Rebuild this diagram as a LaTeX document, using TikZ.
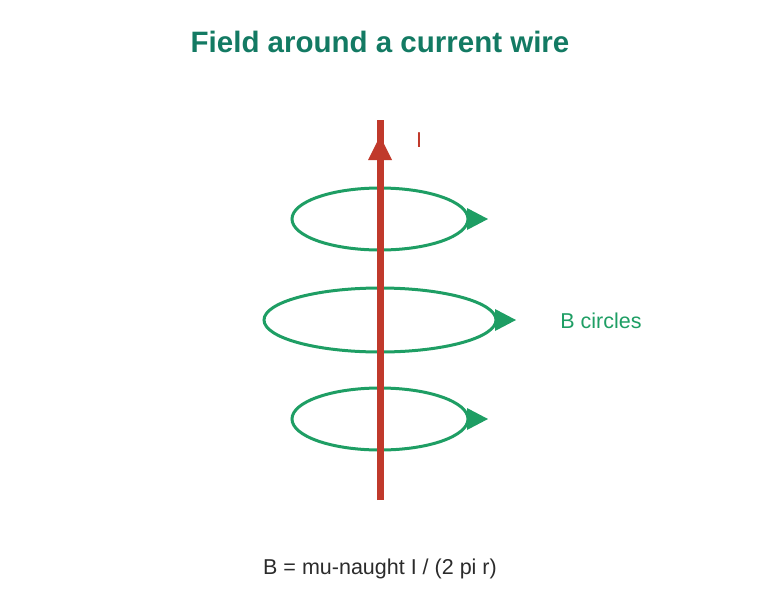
\documentclass[tikz,border=0pt]{standalone}
\usepackage{fontspec}
\setmainfont{Liberation Sans}
\definecolor{ttl}{HTML}{137A63}
\definecolor{wire}{HTML}{C0392B}
\definecolor{fld}{HTML}{1E9E64}
\definecolor{txt}{HTML}{2B2B2B}
\begin{document}
\begin{tikzpicture}[x=1pt,y=-1pt,
  loop/.style={draw=fld,line width=3pt},
  lbl/.style={font=\fontsize{21.5}{25}\selectfont}]
\useasboundingbox (0,0) rectangle (760,600);
\node[font=\fontsize{29.5}{34}\selectfont\bfseries,text=ttl] (title) at (380,42) {Field around a current wire};
\draw[loop] (380,219) ellipse [x radius=88,y radius=31];
\draw[loop] (380,320) ellipse [x radius=116,y radius=32];
\draw[loop] (380,419) ellipse [x radius=88,y radius=31];
\coordinate (w1) at (380,500);
\coordinate (w2) at (380,120);
\draw[wire,line width=7pt] (w1) -- (w2);
\fill[wire] (380,136) -- (392,160) -- (368,160) -- cycle;
\fill[fld] (488,219) -- (467,208) -- (467,230) -- cycle;
\fill[fld] (516,320) -- (495,309) -- (495,331) -- cycle;
\fill[fld] (488,419) -- (467,408) -- (467,430) -- cycle;
\node[lbl,text=wire] (I) at (419,140) {I};
\node[lbl,text=fld] (B) at (601,321) {B circles};
\node[lbl,text=txt] (eq) at (380,569) {B = mu-naught I / (2 pi r)};
\end{tikzpicture}
\end{document}
